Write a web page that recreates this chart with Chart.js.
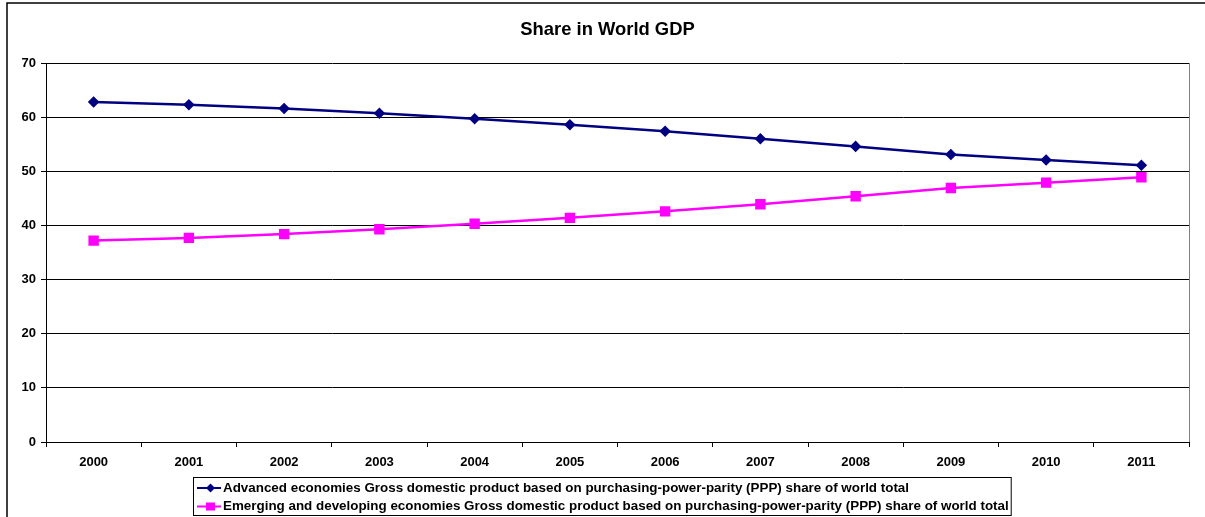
<!DOCTYPE html>
<html>
<head>
<meta charset="utf-8">
<title>Share in World GDP</title>
<script src="https://cdn.jsdelivr.net/npm/chart.js@4.4.1/dist/chart.umd.min.js"></script>
<style>
  html, body { margin: 0; padding: 0; background: #fff; }
  #wrap { width: 1205px; height: 517px; }
</style>
</head>
<body>
<div id="wrap"><canvas id="gdpChart" width="1205" height="517"></canvas></div>
<script>
const years = ["2000", "2001", "2002", "2003", "2004", "2005", "2006", "2007", "2008", "2009", "2010", "2011"];

// PPP share of world GDP, percent
const advanced = [62.8, 62.3, 61.6, 60.7, 59.7, 58.6, 57.4, 56.0, 54.6, 53.1, 52.1, 51.1];
const emerging = [37.2, 37.7, 38.4, 39.3, 40.3, 41.4, 42.6, 43.9, 45.4, 46.9, 47.9, 48.9];

const chartTitle = "Share in World GDP";
const labelAdvanced = "Advanced economies Gross domestic product based on purchasing-power-parity (PPP) share of world total";
const labelEmerging = "Emerging and developing economies Gross domestic product based on purchasing-power-parity (PPP) share of world total";

const FONT = "'Liberation Sans', Arial, sans-serif";

// outer frame, title, right edge of the plot and the boxed legend underneath
const framePlugin = {
  id: "frame",
  afterDraw(chart) {
    const ctx = chart.ctx;
    const area = chart.chartArea;
    ctx.save();

    ctx.strokeStyle = "#000";
    ctx.lineWidth = 1.5;
    ctx.beginPath();
    ctx.moveTo(7, 517);
    ctx.lineTo(7, 3);
    ctx.lineTo(1205, 3);
    ctx.stroke();

    ctx.fillStyle = "#000";
    ctx.font = "bold 18.4px " + FONT;
    ctx.textAlign = "center";
    ctx.textBaseline = "middle";
    ctx.fillText(chartTitle, 607.5, 30);

    ctx.strokeStyle = "#808080";
    ctx.lineWidth = 1;
    ctx.beginPath();
    ctx.moveTo(Math.round(area.right) + 0.5, area.top);
    ctx.lineTo(Math.round(area.right) + 0.5, area.bottom);
    ctx.stroke();

    // legend
    ctx.font = "bold 13.4px " + FONT;
    ctx.textBaseline = "middle";
    ctx.textAlign = "left";
    const boxLeft = 193, boxTop = 477, rowH = 18.5;
    const textX = 223;
    let maxW = 0;
    chart.data.datasets.forEach(ds => { maxW = Math.max(maxW, ctx.measureText(ds.label).width); });
    const boxW = textX + maxW + 2 - boxLeft;
    const boxH = 38;

    ctx.strokeStyle = "#000";
    ctx.lineWidth = 1;
    ctx.strokeRect(boxLeft + 0.5, boxTop + 0.5, boxW, boxH);

    chart.data.datasets.forEach((ds, i) => {
      const y = boxTop + 11 + i * rowH;
      ctx.strokeStyle = ds.borderColor;
      ctx.lineWidth = 2;
      ctx.beginPath();
      ctx.moveTo(197, y);
      ctx.lineTo(221, y);
      ctx.stroke();

      ctx.fillStyle = ds.pointBackgroundColor;
      ctx.beginPath();
      if (ds.pointStyle === "rectRot") {
        ctx.moveTo(210.5, y - 4.5);
        ctx.lineTo(215, y);
        ctx.lineTo(210.5, y + 4.5);
        ctx.lineTo(206, y);
        ctx.closePath();
      } else {
        ctx.rect(206, y - 4, 9, 8);
      }
      ctx.fill();

      ctx.fillStyle = "#000";
      ctx.fillText(ds.label, textX, y);
    });

    ctx.restore();
  }
};

new Chart(document.getElementById("gdpChart"), {
  type: "line",
  data: {
    labels: years,
    datasets: [
      {
        label: labelAdvanced,
        data: advanced,
        borderColor: "#000080",
        backgroundColor: "#000080",
        pointBackgroundColor: "#000080",
        pointBorderColor: "#000080",
        pointStyle: "rectRot",
        pointRadius: 4,
        borderWidth: 2.5,
        tension: 0
      },
      {
        label: labelEmerging,
        data: emerging,
        borderColor: "#FF00FF",
        backgroundColor: "#FF00FF",
        pointBackgroundColor: "#FF00FF",
        pointBorderColor: "#FF00FF",
        pointStyle: "rect",
        pointRadius: 5.6,
        borderWidth: 2.5,
        tension: 0
      }
    ]
  },
  options: {
    responsive: false,
    animation: false,
    layout: { padding: { left: 0, right: 16, top: 63, bottom: 45 } },
    plugins: {
      legend: { display: false },
      tooltip: { enabled: false },
      title: { display: false }
    },
    scales: {
      x: {
        offset: true,
        grid: {
          display: true,
          drawOnChartArea: false,
          drawTicks: true,
          tickLength: 5,
          offset: true,
          color: "#000"
        },
        border: { color: "#000", width: 1 },
        ticks: {
          color: "#000",
          font: { family: FONT, size: 13, weight: "bold" },
          padding: 8,
          maxRotation: 0
        },
        afterFit(scale) { scale.height = 30; }
      },
      y: {
        min: 0,
        max: 70,
        ticks: {
          stepSize: 10,
          color: "#000",
          font: { family: FONT, size: 13, weight: "bold" },
          padding: 5
        },
        grid: { color: "#000", lineWidth: 1, tickLength: 5 },
        border: { color: "#000", width: 1 },
        afterFit(scale) { scale.width = 46; }
      }
    }
  },
  plugins: [framePlugin]
});
</script>
</body>
</html>
